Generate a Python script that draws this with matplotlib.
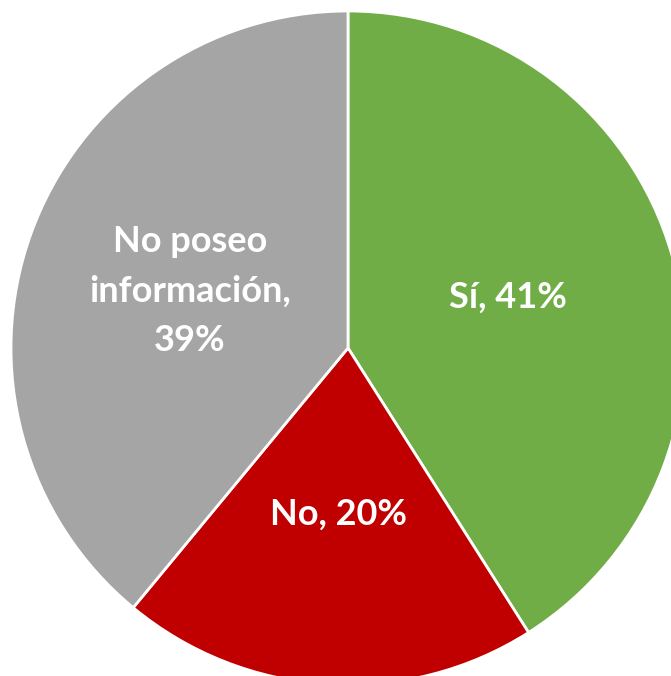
import matplotlib.pyplot as plt

labels = ["Sí, ", "No, ", "No poseo\ninformación,\n"]
values = [41, 20, 39]
colors = ["#70AD47", "#C00000", "#A5A5A5"]
# label offsets from centre, in pixels
label_pos = [(160, 51), (-9, -166), (-158, 57)]

W, H = 671, 676
cx, cy, r = 348, 348, 337

fig = plt.figure(figsize=(W / 100, H / 100), dpi=100)
ax = fig.add_axes([0, 0, 1, 1])
ax.pie(values, colors=colors, startangle=90, counterclock=False, radius=r,
       wedgeprops=dict(edgecolor="white", linewidth=2))
ax.set_xlim(-cx, W - cx)
ax.set_ylim(-(H - cy), cy)
ax.set_aspect("equal")
ax.axis("off")

for lab, val, (dx, dy) in zip(labels, values, label_pos):
    ax.text(dx, dy, f"{lab}{val}%", color="white", fontsize=26,
            fontweight="bold", family="Lato", ha="center", va="center",
            linespacing=1.62)

fig.savefig("out.png", dpi=100)
